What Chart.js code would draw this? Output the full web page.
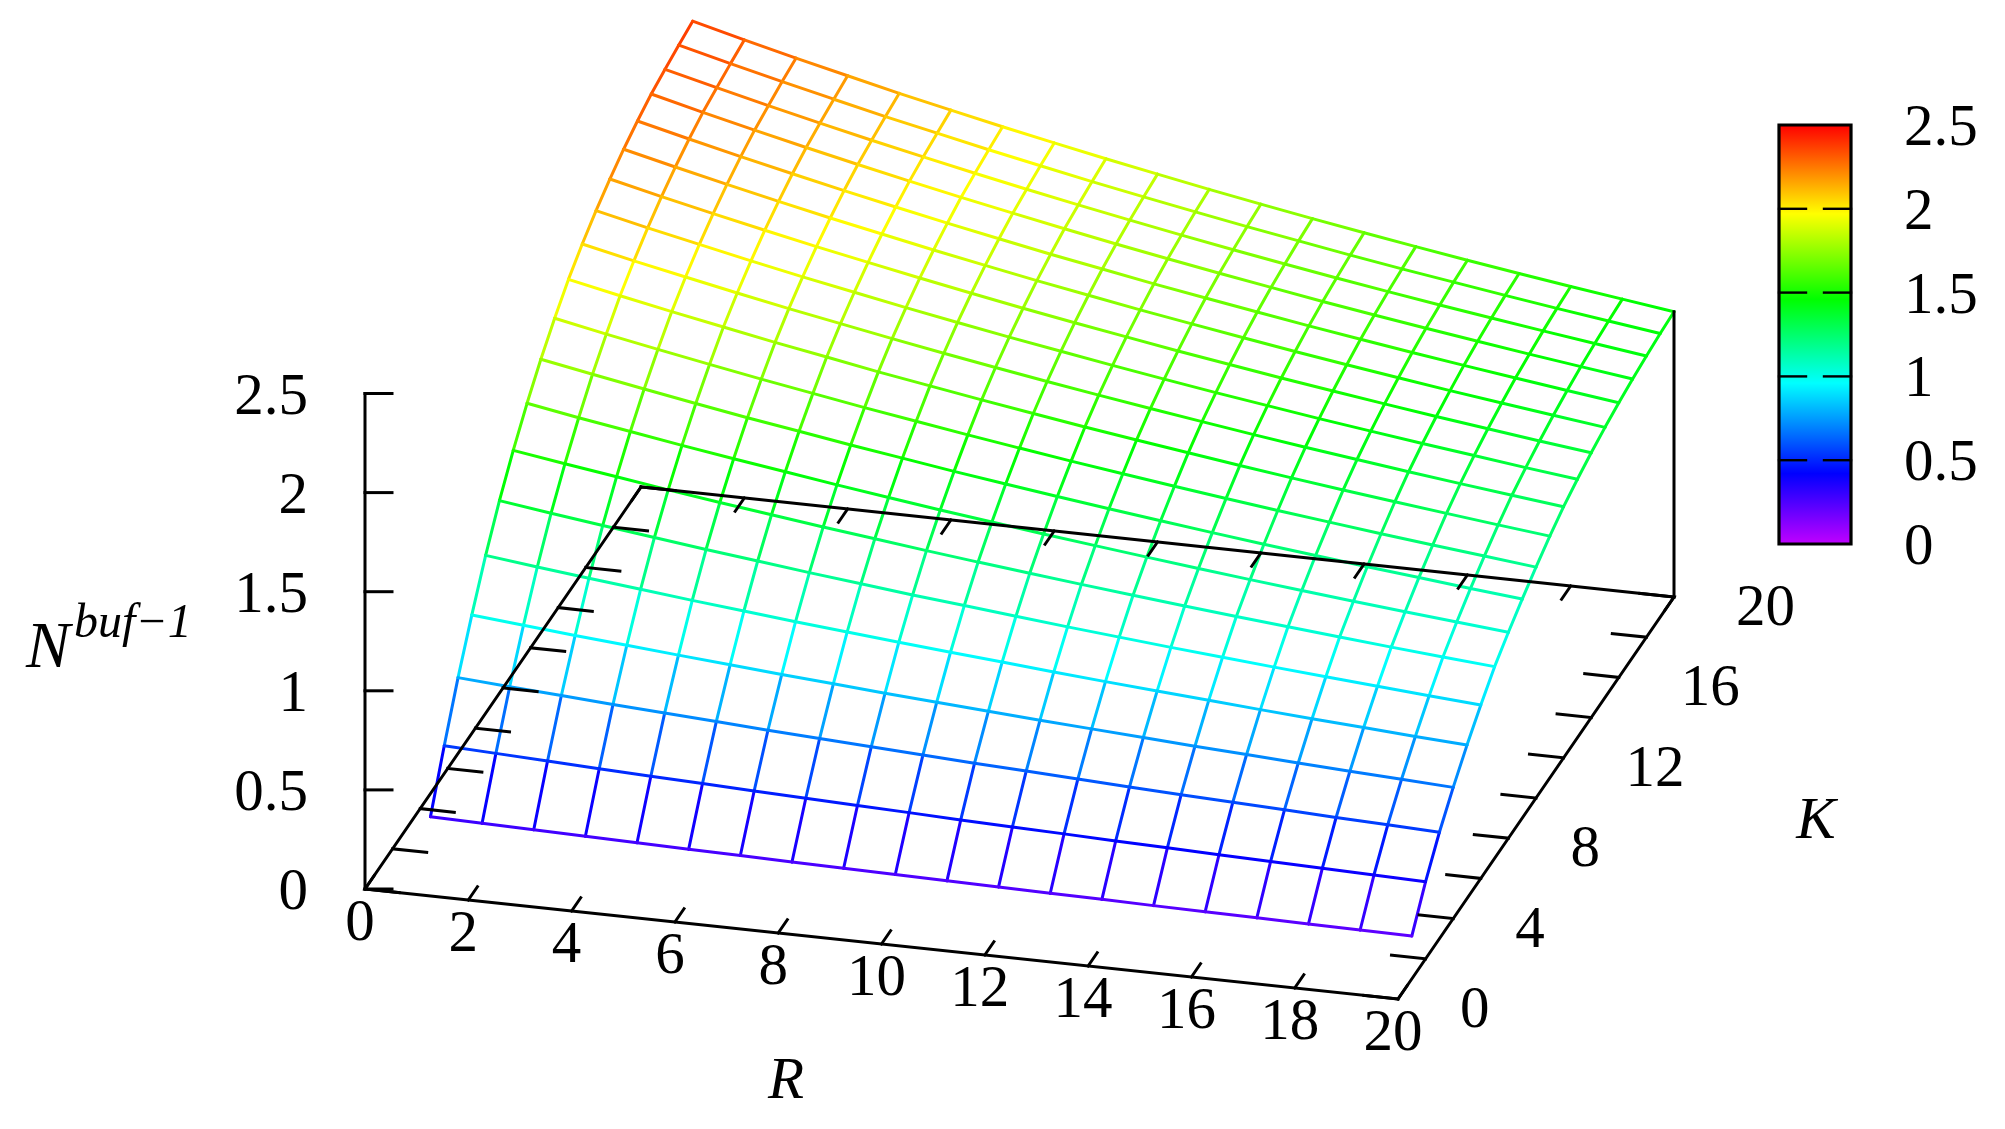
<!DOCTYPE html>
<html>
<head>
<meta charset="utf-8">
<title>N buf-1 surface</title>
<style>
  html,body{margin:0;padding:0;background:#fff;}
  canvas{display:block;}
</style>
<script src="https://cdn.jsdelivr.net/npm/chart.js@4"></script>
</head>
<body>
<canvas id="chart" width="2005" height="1129"></canvas>
<script>
// ========= DATA =========
const rValues = [1,2,3,4,5,6,7,8,9,10,11,12,13,14,15,16,17,18,19,20];
const kValues = [1,2,3,4,5,6,7,8,9,10,11,12,13,14,15,16,17,18,19,20];

// N value along R = 1..20, one row per K
const nK1  = [.291,.286,.281,.276,.271,.266,.262,.257,.253,.249,.245,.242,.238,.235,.231,.228,.225,.222,.219,.216];
const nK2  = [.548,.537,.526,.515,.505,.496,.486,.477,.468,.460,.451,.443,.436,.428,.421,.414,.408,.401,.395,.389];
const nK3  = [.790,.772,.755,.738,.722,.707,.691,.677,.663,.649,.636,.624,.611,.599,.588,.577,.567,.556,.547,.537];
const nK4  = [1.005,.981,.957,.935,.913,.892,.871,.852,.832,.814,.796,.779,.763,.747,.731,.717,.702,.688,.675,.662];
const nK5  = [1.204,1.173,1.144,1.116,1.088,1.062,1.036,1.012,.988,.965,.943,.921,.900,.880,.861,.842,.824,.807,.790,.774];
const nK6  = [1.379,1.343,1.309,1.276,1.243,1.213,1.182,1.154,1.125,1.099,1.073,1.047,1.023,.999,.977,.955,.934,.914,.894,.875];
const nK7  = [1.531,1.491,1.453,1.415,1.379,1.345,1.311,1.279,1.247,1.217,1.188,1.160,1.133,1.106,1.081,1.057,1.033,1.010,.988,.967];
const nK8  = [1.667,1.622,1.580,1.538,1.498,1.460,1.422,1.386,1.351,1.318,1.285,1.254,1.224,1.194,1.166,1.139,1.112,1.087,1.063,1.039];
const nK9  = [1.788,1.740,1.693,1.648,1.604,1.563,1.522,1.483,1.444,1.408,1.373,1.339,1.306,1.274,1.243,1.214,1.185,1.158,1.131,1.105];
const nK10 = [1.893,1.841,1.792,1.744,1.697,1.653,1.609,1.568,1.527,1.488,1.450,1.414,1.379,1.345,1.312,1.281,1.250,1.221,1.193,1.165];
const nK11 = [1.988,1.933,1.881,1.831,1.781,1.735,1.688,1.645,1.602,1.561,1.521,1.483,1.446,1.410,1.375,1.342,1.310,1.279,1.249,1.220];
const nK12 = [2.065,2.008,1.954,1.901,1.850,1.802,1.754,1.708,1.664,1.621,1.580,1.540,1.502,1.464,1.428,1.394,1.360,1.328,1.297,1.267];
const nK13 = [2.132,2.073,2.017,1.962,1.909,1.859,1.809,1.762,1.716,1.672,1.629,1.587,1.547,1.509,1.471,1.436,1.401,1.368,1.335,1.304];
const nK14 = [2.190,2.129,2.071,2.015,1.960,1.908,1.857,1.808,1.760,1.715,1.671,1.628,1.587,1.547,1.509,1.472,1.436,1.402,1.368,1.336];
const nK15 = [2.239,2.177,2.117,2.059,2.003,1.950,1.897,1.847,1.798,1.752,1.706,1.663,1.621,1.579,1.540,1.502,1.465,1.430,1.396,1.363];
const nK16 = [2.280,2.217,2.156,2.097,2.040,1.985,1.931,1.880,1.830,1.783,1.736,1.692,1.649,1.607,1.567,1.528,1.491,1.455,1.420,1.386];
const nK17 = [2.315,2.250,2.188,2.128,2.070,2.014,1.960,1.908,1.857,1.808,1.761,1.716,1.672,1.629,1.588,1.549,1.511,1.474,1.439,1.404];
const nK18 = [2.338,2.273,2.210,2.150,2.091,2.035,1.980,1.927,1.876,1.827,1.779,1.733,1.689,1.646,1.605,1.565,1.527,1.490,1.454,1.419];
const nK19 = [2.359,2.293,2.230,2.169,2.109,2.053,1.997,1.944,1.892,1.843,1.795,1.748,1.704,1.660,1.618,1.579,1.540,1.502,1.466,1.431];
const nK20 = [2.378,2.311,2.247,2.186,2.125,2.068,2.012,1.958,1.906,1.856,1.807,1.760,1.715,1.671,1.629,1.588,1.549,1.511,1.475,1.439];
const nRows = [nK1,nK2,nK3,nK4,nK5,nK6,nK7,nK8,nK9,nK10,nK11,nK12,nK13,nK14,nK15,nK16,nK17,nK18,nK19,nK20];

// tick labels
const rTicks  = [0,2,4,6,8,10,12,14,16,18,20];
const kTicks  = [0,2,4,6,8,10,12,14,16,18,20];
const kLabels = [0,4,8,12,16,20];
const nTicks  = [0,0.5,1,1.5,2,2.5];
const nTickText = ['0','0.5','1','1.5','2','2.5'];

// colour palette stops: value, r, g, b
const paletteVals = [0,0.42,0.96,1.46,1.97,2.5];
const paletteRGB  = [[192,0,255],[0,0,255],[0,255,255],[0,255,0],[255,255,0],[255,0,0]];

// ========= PROJECTION (fixed gnuplot style view) =========
const W = 2005, H = 1129;
const view = {ox:365, oy:889, rx:51.65, ry:5.5, kx:13.8, ky:-20.1, nz:198.2};
const project = (r,k,n=0) => ({x:view.ox+r*view.rx+k*view.kx, y:view.oy+r*view.ry+k*view.ky-n*view.nz, n});

const cbar = {x:1815, w:70, top:125, bottom:544};
const cbarY = n => cbar.bottom-(n/2.5)*(cbar.bottom-cbar.top);

function colorOf(n){
    let i = 0;
    while(i<paletteVals.length-2 && n>paletteVals[i+1]) i++;
    const t = Math.min(1,Math.max(0,(n-paletteVals[i])/(paletteVals[i+1]-paletteVals[i])));
    const c = paletteRGB[i].map((v,j)=>Math.round(v+(paletteRGB[i+1][j]-v)*t));
    return `rgb(${c[0]},${c[1]},${c[2]})`;
}

// ========= DATASETS =========
const datasets = [];
const blackLine = (pts,width=3) => datasets.push({
    data:pts, showLine:true, pointRadius:0, borderColor:'#000', borderWidth:width,
    borderCapStyle:'square', borderJoinStyle:'miter', tension:0, order:0
});
function meshLine(pts){
    datasets.push({
        data:pts, showLine:true, pointRadius:0, borderWidth:3, borderColor:colorOf(pts[0].n),
        borderCapStyle:'round', tension:0, order:2,
        segment:{borderColor:c=>colorOf((pts[c.p0DataIndex].n+pts[c.p1DataIndex].n)/2)}
    });
}

// mesh
kValues.forEach((k,i)=>meshLine(rValues.map((r,j)=>project(r,k,nRows[i][j]))));
rValues.forEach((r,j)=>meshLine(kValues.map((k,i)=>project(r,k,nRows[i][j]))));

// box on the floor and the two verticals
blackLine([project(0,20),project(0,0),project(20,0),project(20,20),project(0,20)]);
blackLine([project(0,0,0),project(0,0,2.5)]);
blackLine([project(20,20,0),project(20,20,nK20[19])]);

// tick marks
const ticLen = 0.66;
rTicks.forEach(r=>{
    blackLine([project(r,0),project(r,ticLen)]);
    blackLine([project(r,20),project(r,20-ticLen)]);
});
kTicks.forEach(k=>{
    blackLine([project(0,k),project(ticLen,k)]);
    blackLine([project(20,k),project(20-ticLen,k)]);
});
nTicks.forEach(n=>{
    const p = project(0,0,n);
    blackLine([p,{x:p.x+27,y:p.y}]);
});

// colour bar
const gradCtx = document.getElementById('chart').getContext('2d');
const cbarGrad = gradCtx.createLinearGradient(0,cbarY(0),0,cbarY(2.5));
paletteVals.forEach(v=>cbarGrad.addColorStop(v/2.5,colorOf(v)));
datasets.push({
    data:[{x:cbar.x,y:cbarY(0)},{x:cbar.x,y:cbarY(2.5)}], showLine:true, pointRadius:0,
    borderColor:cbarGrad, borderWidth:cbar.w, borderCapStyle:'butt', order:1
});
const cbL = cbar.x-cbar.w/2-1, cbR = cbar.x+cbar.w/2+1;
blackLine([{x:cbL,y:cbarY(0)},{x:cbR,y:cbarY(0)},{x:cbR,y:cbarY(2.5)},{x:cbL,y:cbarY(2.5)},{x:cbL,y:cbarY(0)}],3.2);
nTicks.slice(1,-1).forEach(n=>{
    blackLine([{x:cbL,y:cbarY(n)},{x:cbL+27,y:cbarY(n)}],2.4);
    blackLine([{x:cbR,y:cbarY(n)},{x:cbR-27,y:cbarY(n)}],2.4);
});

// ========= TEXT =========
const serif = '"Liberation Serif","Times New Roman",serif';
const labelsPlugin = {
    id:'labels',
    afterDatasetsDraw(chart){
        const {ctx,scales} = chart;
        const px = p => ({x:scales.x.getPixelForValue(p.x), y:scales.y.getPixelForValue(p.y)});
        const put = (s,x,y,align='center',font=`59px ${serif}`) => {
            ctx.font = font; ctx.textAlign = align; ctx.textBaseline = 'alphabetic';
            ctx.fillStyle = '#000'; ctx.fillText(s,x,y);
        };
        ctx.save();
        rTicks.forEach(r=>{
            const p = px(project(r,0));
            put(String(r),p.x-5,p.y+51);
        });
        kLabels.forEach(k=>{
            const p = px(project(20,k));
            put(String(k),p.x+62,p.y+28,'left');
        });
        nTicks.forEach((n,i)=>{
            const p = px(project(0,0,n));
            put(nTickText[i],308,p.y+20,'right');
            put(nTickText[i],1904,cbarY(n)+20,'left');
        });
        put('R',786,1098,'center',`italic 59px ${serif}`);
        put('K',1816,838,'center',`italic 59px ${serif}`);
        put('N',26,667,'left',`italic 66px ${serif}`);
        put('buf\u22121',74,637,'left',`italic 48px ${serif}`);
        ctx.restore();
    }
};

// ========= CHART =========
new Chart(document.getElementById('chart'),{
    type:'scatter',
    data:{datasets},
    options:{
        responsive:false,
        animation:false,
        devicePixelRatio:1,
        layout:{padding:0},
        plugins:{legend:{display:false},tooltip:{enabled:false}},
        scales:{
            x:{type:'linear',display:false,min:0,max:W},
            y:{type:'linear',display:false,min:0,max:H,reverse:true}
        }
    },
    plugins:[labelsPlugin]
});
</script>
</body>
</html>
